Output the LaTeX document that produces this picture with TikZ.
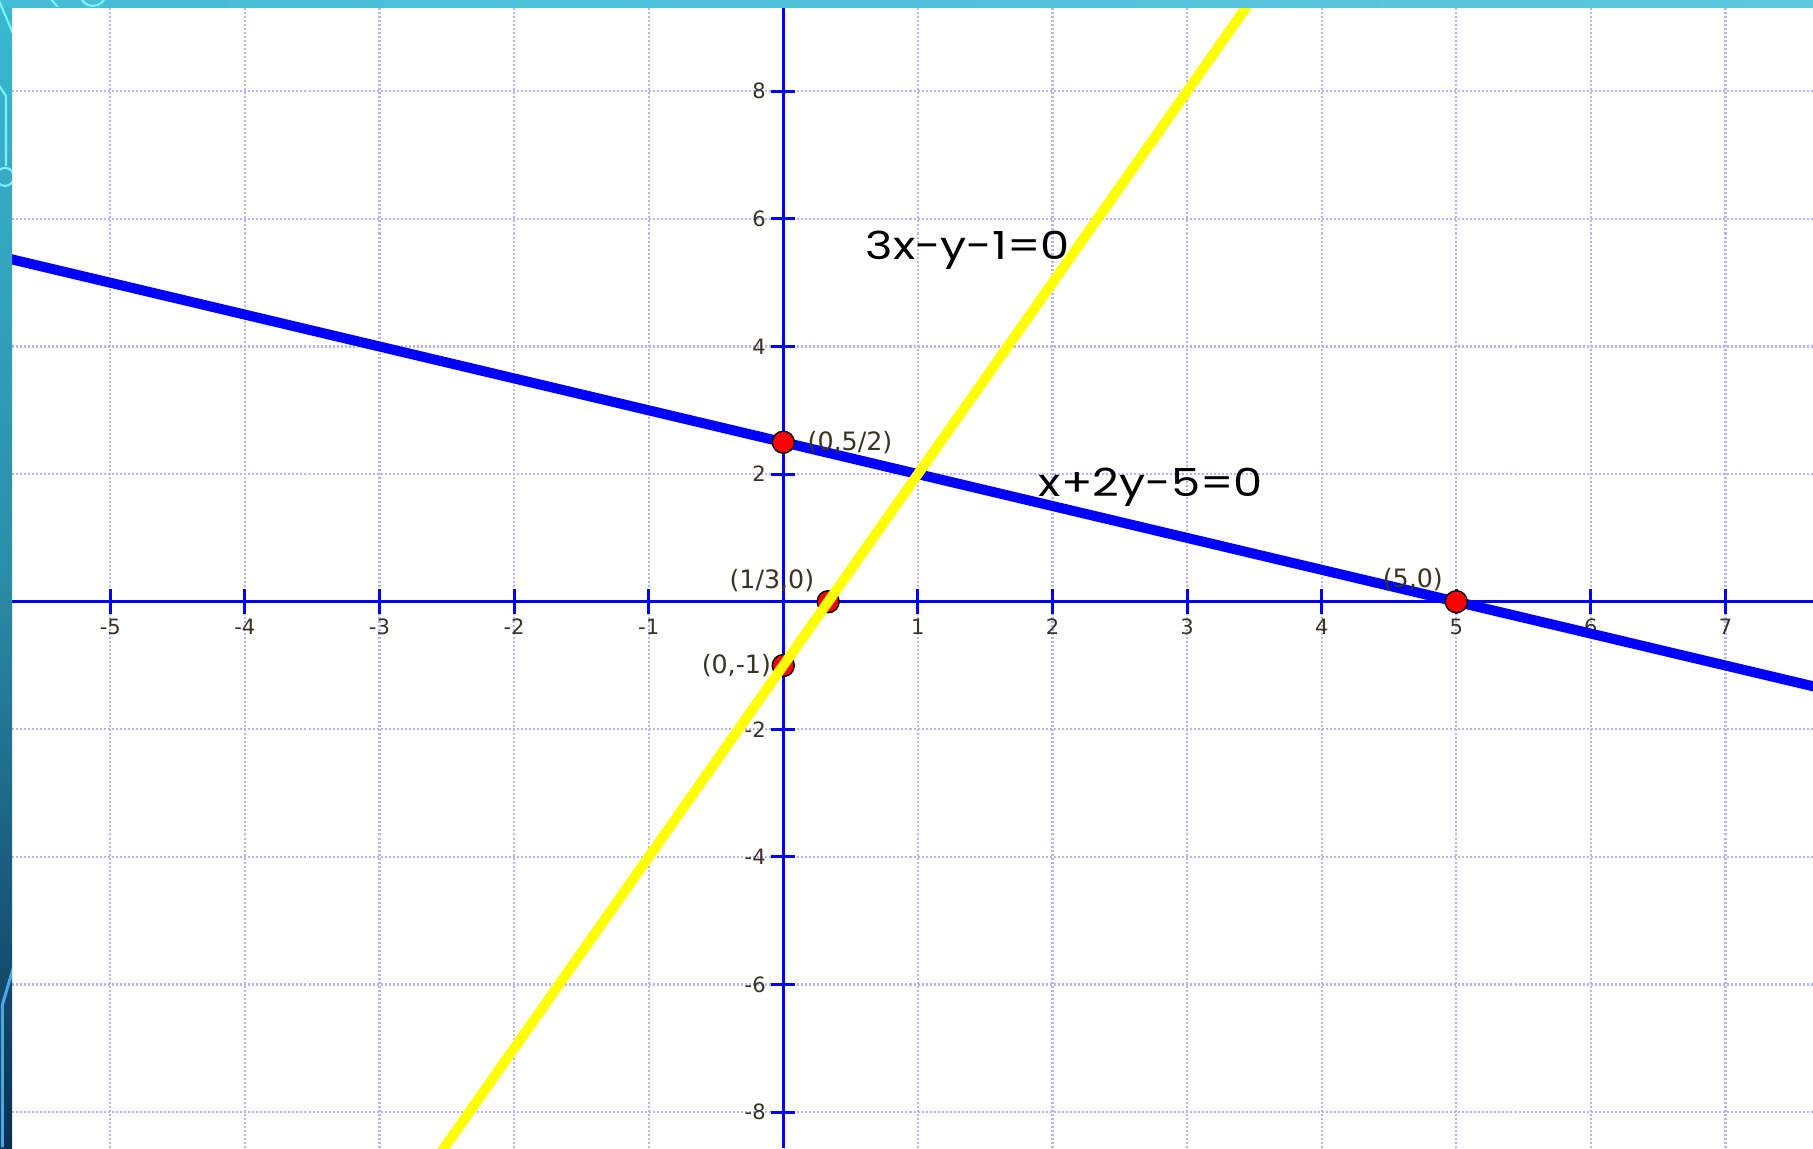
\documentclass[tikz,border=0pt]{standalone}
\usepackage{fontspec}
\usepackage{xcolor}
\usetikzlibrary{positioning}
\setmainfont{DejaVu Sans}
\newfontfamily\eqfont[FakeStretch=1.2]{Poppins}
\definecolor{gridlav}{HTML}{B4B4FF}
\definecolor{axisblue}{HTML}{0000FF}
\definecolor{ticktext}{HTML}{3B3222}
\definecolor{linyellow}{HTML}{FFFF00}
\definecolor{barcyanL}{HTML}{45BCD6}
\definecolor{barcyanR}{HTML}{5CC8DE}
\definecolor{striptop}{HTML}{3BB8D2}
\definecolor{stripmid}{HTML}{2A8DA8}
\definecolor{stripbot}{HTML}{0A2F55}
\definecolor{decocyan}{HTML}{7DF1FF}
\definecolor{decoblue}{HTML}{4AA6E6}

\begin{document}
\begin{tikzpicture}[
  x=1.346cm, y=0.638cm,
  gridline/.style = {gridlav, line width=0.6pt, dash pattern=on 0.57pt off 0.57pt},
  axisline/.style = {axisblue, line width=0.85pt},
  ticklabel/.style = {font=\fontsize{6}{7}\selectfont, text=ticktext, inner sep=0pt},
  ptlabel/.style = {font=\fontsize{7.2}{8}\selectfont, text=ticktext, inner sep=0pt},
  pt/.style = {circle, fill=red, draw=black, line width=0.4pt,
               minimum size=0.22cm, inner sep=0pt},
  eqline/.style = {line width=2.85pt},
  eqlabel/.style = {font=\eqfont\fontsize{11}{13}\selectfont, inner sep=0pt,
                    anchor=base west},
  deco/.style = {line width=0.6pt},
]

\useasboundingbox (-5.8195,-8.5627) rectangle (7.650,9.431);
\fill[white] (-5.8195,-8.5627) rectangle (7.650,9.431);

% grid
\foreach \gx in {-5,...,7}
  \draw[gridline] (\gx,-8.5627) -- (\gx,9.431);
\foreach \gy in {-8,-6,...,8}
  \draw[gridline] (-5.8195,\gy) -- (7.650,\gy);

% axes
\draw[axisline] (-5.8195,0) -- (7.650,0);
\draw[axisline] (0,-8.5627) -- (0,9.431);
\foreach \tx [count=\i] in {-5,-4,-3,-2,-1,1,2,3,4,5,6,7} {
  \draw[axisline] (\tx,-0.2) -- (\tx,0.2);
  \node[ticklabel] (xtick\i) at (\tx,-0.39) {\tx};
}
\foreach \ty [count=\i] in {-8,-6,-4,-2,2,4,6,8} {
  \draw[axisline] (-0.09,\ty) -- (0.09,\ty);
  \node[ticklabel, anchor=east] (ytick\i) at (-0.125,\ty) {\ty};
}

\begin{scope}
  \clip (-5.73,-8.5627) rectangle (7.65,9.321);
  \draw[eqline, axisblue] (-6,5.5) -- (8,-1.5);
  \node[pt] (pA) at (0,2.5) {};
  \node[pt] (pD) at (5,0) {};
  \node[pt] (pB) at (1/3,0) {};
  \node[pt] (pC) at (0,-1) {};
  \draw[eqline, linyellow] (-2.6,-8.8) -- (3.6,9.8);
\end{scope}

\node[ptlabel, right=0.12cm of pA] (lblA) {(0,5/2)};
\node[ptlabel, above left=0.01cm and 0.05cm of pB] (lblB) {(1/3,0)};
\node[ptlabel, left=0cm of pC] (lblC) {(0,-1)};
\node[ptlabel, above left=0.016cm and 0.045cm of pD] (lblD) {(5,0)};

\node[eqlabel] (eqyel) at (0.607,5.356) {3x-y-1=0};
\node[eqlabel] (eqblu) at (1.894,1.646) {x+2y-5=0};

% slide frame
\shade[top color=striptop, bottom color=stripbot, middle color=stripmid]
  (-5.8195,-8.5627) rectangle (-5.730,9.431);
\shade[left color=barcyanL, right color=barcyanR]
  (-5.8195,9.321) rectangle (7.650,9.431);
\begin{scope}[shift={(-5.8195,9.431)}, x=0.01cm, y=-0.01cm]
  \clip (0,0) rectangle (1813,7) (0,0) rectangle (12,1148);
  \draw[deco, decocyan] (-2,-2) -- (14,36);
  \draw[deco, decocyan] (50,-2) -- (62,12);
  \draw[deco, decocyan] (93,-7) circle[radius=13];
  \draw[deco, decocyan] (-2,84) -- (6,96) -- (6,166);
  \draw[deco, decocyan] (5,177) circle[radius=9];
  \draw[line width=0.85pt, decoblue] (14,966) -- (2.5,1005) -- (2.5,1150);
\end{scope}

\end{tikzpicture}
\end{document}
